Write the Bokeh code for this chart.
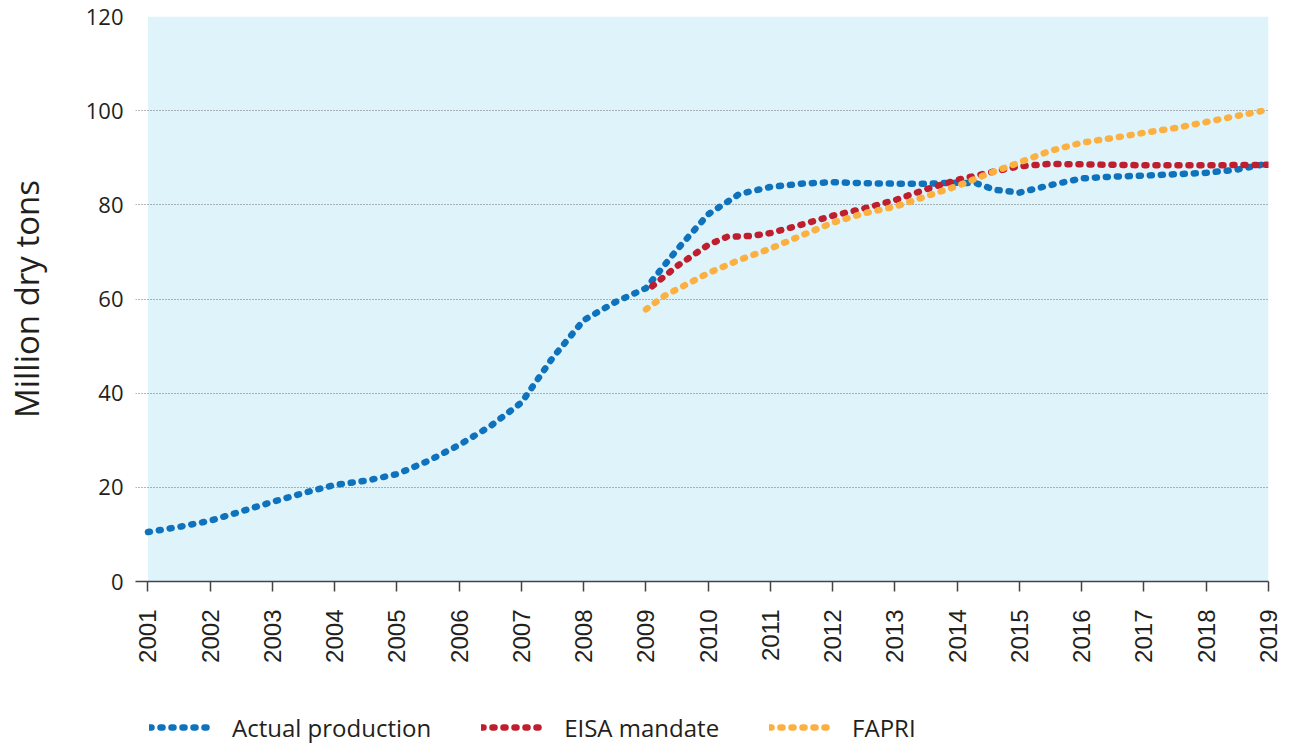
from bokeh.plotting import figure
from bokeh.models import Legend, LegendItem, BoxAnnotation, Range1d, FixedTicker
from bokeh.layouts import column
from bokeh.embed import file_html
from bokeh.resources import INLINE
import math

# ---- data ----
actual_year = [2001.0, 2001.5, 2002.0, 2002.5, 2003.0, 2003.5, 2004.0, 2004.5, 2005.0, 2005.5,
               2006.0, 2006.5, 2007.0, 2007.5, 2008.0, 2008.5, 2009.0, 2009.5, 2010.0, 2010.5,
               2011.0, 2011.5, 2012.0, 2012.5, 2013.0, 2013.5, 2014.0, 2014.3, 2014.6, 2015.0,
               2015.5, 2016.0, 2016.5, 2017.0, 2017.5, 2018.0, 2018.5, 2019.0]
actual_val = [10.5, 11.6, 12.9, 14.9, 16.9, 18.8, 20.5, 21.4, 22.8, 25.6,
              29.0, 33.0, 38.0, 47.5, 55.5, 59.3, 62.3, 70.5, 78.0, 82.3,
              83.8, 84.5, 84.8, 84.6, 84.5, 84.5, 84.7, 84.6, 83.2, 82.6,
              84.2, 85.6, 86.0, 86.2, 86.5, 86.8, 87.5, 88.8]

eisa_year = [2009.1, 2009.5, 2010.0, 2010.3, 2010.7, 2011.0, 2011.5, 2012.0, 2012.5, 2013.0,
             2013.5, 2014.0, 2014.5, 2015.0, 2015.5, 2016.0, 2017.0, 2018.0, 2019.0]
eisa_val = [62.7, 67.0, 71.5, 73.2, 73.4, 74.0, 75.8, 77.7, 79.2, 81.0,
            83.3, 85.3, 86.8, 88.2, 88.7, 88.6, 88.4, 88.4, 88.5]

fapri_year = [2009.0, 2009.3, 2010.0, 2010.5, 2011.0, 2011.5, 2012.0, 2012.5, 2013.0, 2013.5,
              2014.0, 2014.5, 2015.0, 2015.5, 2016.0, 2016.5, 2017.0, 2017.5, 2018.0, 2018.5, 2019.0]
fapri_val = [57.8, 60.7, 65.5, 68.3, 70.7, 73.5, 76.2, 78.2, 79.6, 81.8,
             84.0, 86.6, 89.0, 91.5, 93.2, 94.2, 95.3, 96.3, 97.6, 98.9, 100.2]

x_ticks = list(range(2001, 2020))
y_ticks = [0, 20, 40, 60, 80, 100, 120]
series_names = ["Actual production", "EISA mandate", "FAPRI"]

BLUE = "#0f72bc"
RED = "#be1e2d"
ORANGE = "#fbb040"
BG = "#dff3fb"
TXT = "#231f20"
DASH = "2 9"
LW = 6.5
COLORS = [BLUE, RED, ORANGE]
SERIES = [(actual_year, actual_val), (eisa_year, eisa_val), (fapri_year, fapri_val)]

p = figure(width=1290, height=696, output_backend="svg", toolbar_location=None,
           x_range=Range1d(2000.8, 2019.0), y_range=Range1d(0, 120),
           min_border_left=134, min_border_top=16, min_border_right=22, min_border_bottom=115)
p.outline_line_color = None
p.background_fill_color = "white"
p.add_layout(BoxAnnotation(left=2001, right=2019, bottom=0, top=120,
                           fill_color=BG, fill_alpha=1.0, line_color=None, level="image"))

for (xs, ys), c in zip(SERIES, COLORS):
    p.line(xs, ys, line_color=c, line_width=LW, line_dash=DASH, line_cap="round")

# grid
p.xgrid.grid_line_color = None
p.ygrid.ticker = FixedTicker(ticks=y_ticks[1:])
p.ygrid.grid_line_color = "#6d6e71"
p.ygrid.grid_line_dash = "1 2"
p.ygrid.grid_line_width = 1

# y axis
ya = p.yaxis[0]
ya.ticker = FixedTicker(ticks=y_ticks)
ya.axis_line_color = None
ya.major_tick_line_color = None
ya.major_tick_out = 0
ya.major_tick_in = 0
ya.minor_tick_line_color = None
ya.major_label_text_font = "Open Sans"
ya.major_label_text_font_size = "22px"
ya.major_label_text_color = TXT
ya.major_label_standoff = 12
ya.axis_label = "Million dry tons"
ya.axis_label_text_font = "Open Sans"
ya.axis_label_text_font_size = "33px"
ya.axis_label_text_font_style = "normal"
ya.axis_label_text_color = TXT
ya.axis_label_standoff = 34

# x axis
xa = p.xaxis[0]
xa.ticker = FixedTicker(ticks=x_ticks)
xa.axis_line_color = "#444444"
xa.axis_line_width = 1.5
xa.major_tick_line_color = "#444444"
xa.major_tick_line_width = 1.5
xa.major_tick_in = 0
xa.major_tick_out = 10
xa.minor_tick_line_color = None
xa.major_label_orientation = math.pi / 2
xa.major_label_text_font = "Liberation Sans"
xa.major_label_text_font_size = "24px"
xa.major_label_text_color = TXT
xa.major_label_standoff = 18

# ---- legend strip below the chart (its lines carry the same data, out of view) ----
lg = figure(width=1290, height=48, output_backend="svg", toolbar_location=None,
            x_axis_type=None, y_axis_type=None, x_range=Range1d(0, 1), y_range=Range1d(0, 1),
            min_border_left=134, min_border_right=22, min_border_top=0, min_border_bottom=0)
lg.outline_line_color = None
lg.xgrid.visible = False
lg.ygrid.visible = False
items = []
for name, (xs, ys), c in zip(series_names, SERIES, COLORS):
    r = lg.line(xs, ys, line_color=c, line_width=LW, line_dash=DASH, line_cap="round")
    items.append(LegendItem(label=name, renderers=[r]))
legend = Legend(items=items, orientation="horizontal", location="top_left",
                glyph_width=65, glyph_height=34, label_height=34, label_standoff=18, spacing=50,
                padding=0, margin=14, border_line_color=None, background_fill_alpha=0,
                label_text_font="Open Sans", label_text_font_size="24px",
                label_text_color=TXT)
lg.add_layout(legend, "center")

open("out.html", "w").write(file_html(column(p, lg, spacing=0), INLINE))
